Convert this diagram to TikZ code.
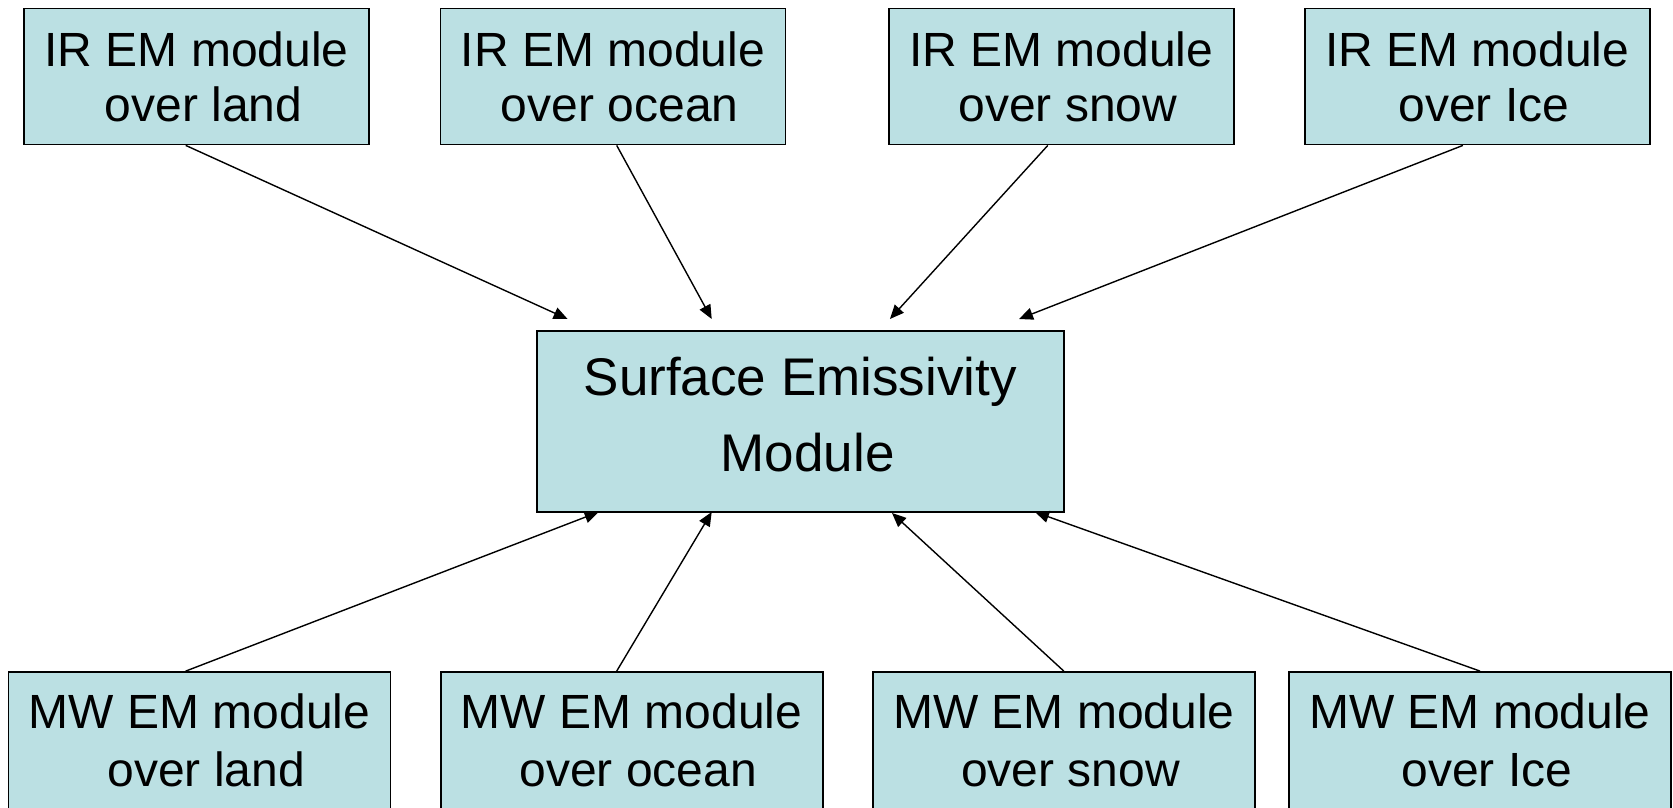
\documentclass[tikz,border=0pt]{standalone}
\usepackage{fontspec}
\setmainfont{Liberation Sans}
\usetikzlibrary{arrows.meta}
\definecolor{boxfill}{RGB}{187,224,227}
\newcommand{\lead}{\hspace*{0.28em}}
\tikzset{
  modbox/.style={draw=black, line width=1.8pt, fill=boxfill, align=center, inner sep=0pt,
    font=\fontsize{48}{55}\selectfont},
  topbox/.style={modbox, minimum width=345pt, minimum height=136pt},
  botbox/.style={modbox, minimum width=382pt, minimum height=140pt, text depth=3pt,
    font=\fontsize{48}{58}\selectfont},
  centerbox/.style={modbox, minimum width=527pt, minimum height=181pt, text depth=14pt,
    font=\fontsize{53}{76}\selectfont},
  conn/.style={line width=1.4pt, -{Triangle[length=14pt,width=12pt]}}
}
\begin{document}
\begin{tikzpicture}[x=1pt,y=-1pt]
\useasboundingbox (0,0) rectangle (1673,808);
\clip (0,0) rectangle (1673,808);
% top row
\node[topbox] (t1) at (196.7,76.5) {IR EM module\\\lead over land};
\node[topbox] (t2) at (613,76.5) {IR EM module\\\lead over ocean};
\node[topbox] (t3) at (1061.1,76.5) {IR EM module\\\lead over snow};
\node[topbox] (t4) at (1477.2,76.5) {IR EM module\\\lead over Ice};
% center
\node[centerbox] (c) at (800.2,421.5) {Surface Emissivity\\\lead Module};
% bottom row
\node[botbox] (b1) at (199.5,742) {MW EM module\\\lead over land};
\node[botbox] (b2) at (631.6,742) {MW EM module\\\lead over ocean};
\node[botbox] (b3) at (1063.8,742) {MW EM module\\\lead over snow};
\node[botbox] (b4) at (1480,742) {MW EM module\\\lead over Ice};
% arrow ends
\coordinate (e1) at (567.6,319);
\coordinate (e2) at (711.7,319);
\coordinate (e3) at (889.9,319);
\coordinate (e4) at (1019,319);
\coordinate (e5) at (598.6,512);
\coordinate (e6) at (711.7,512);
\coordinate (e7) at (892,513);
\coordinate (e8) at (1035,512);
% connectors
\draw[conn] ([xshift=-11pt]t1.south) -- (e1);
\draw[conn] ([xshift=3.7pt]t2.south) -- (e2);
\draw[conn] ([xshift=-13.3pt]t3.south) -- (e3);
\draw[conn] ([xshift=-14.3pt]t4.south) -- (e4);
\draw[conn] ([xshift=-13.8pt]b1.north) -- (e5);
\draw[conn] ([xshift=-14.9pt]b2.north) -- (e6);
\draw[conn] (b3.north) -- (e7);
\draw[conn] (b4.north) -- (e8);
\end{tikzpicture}
\end{document}
